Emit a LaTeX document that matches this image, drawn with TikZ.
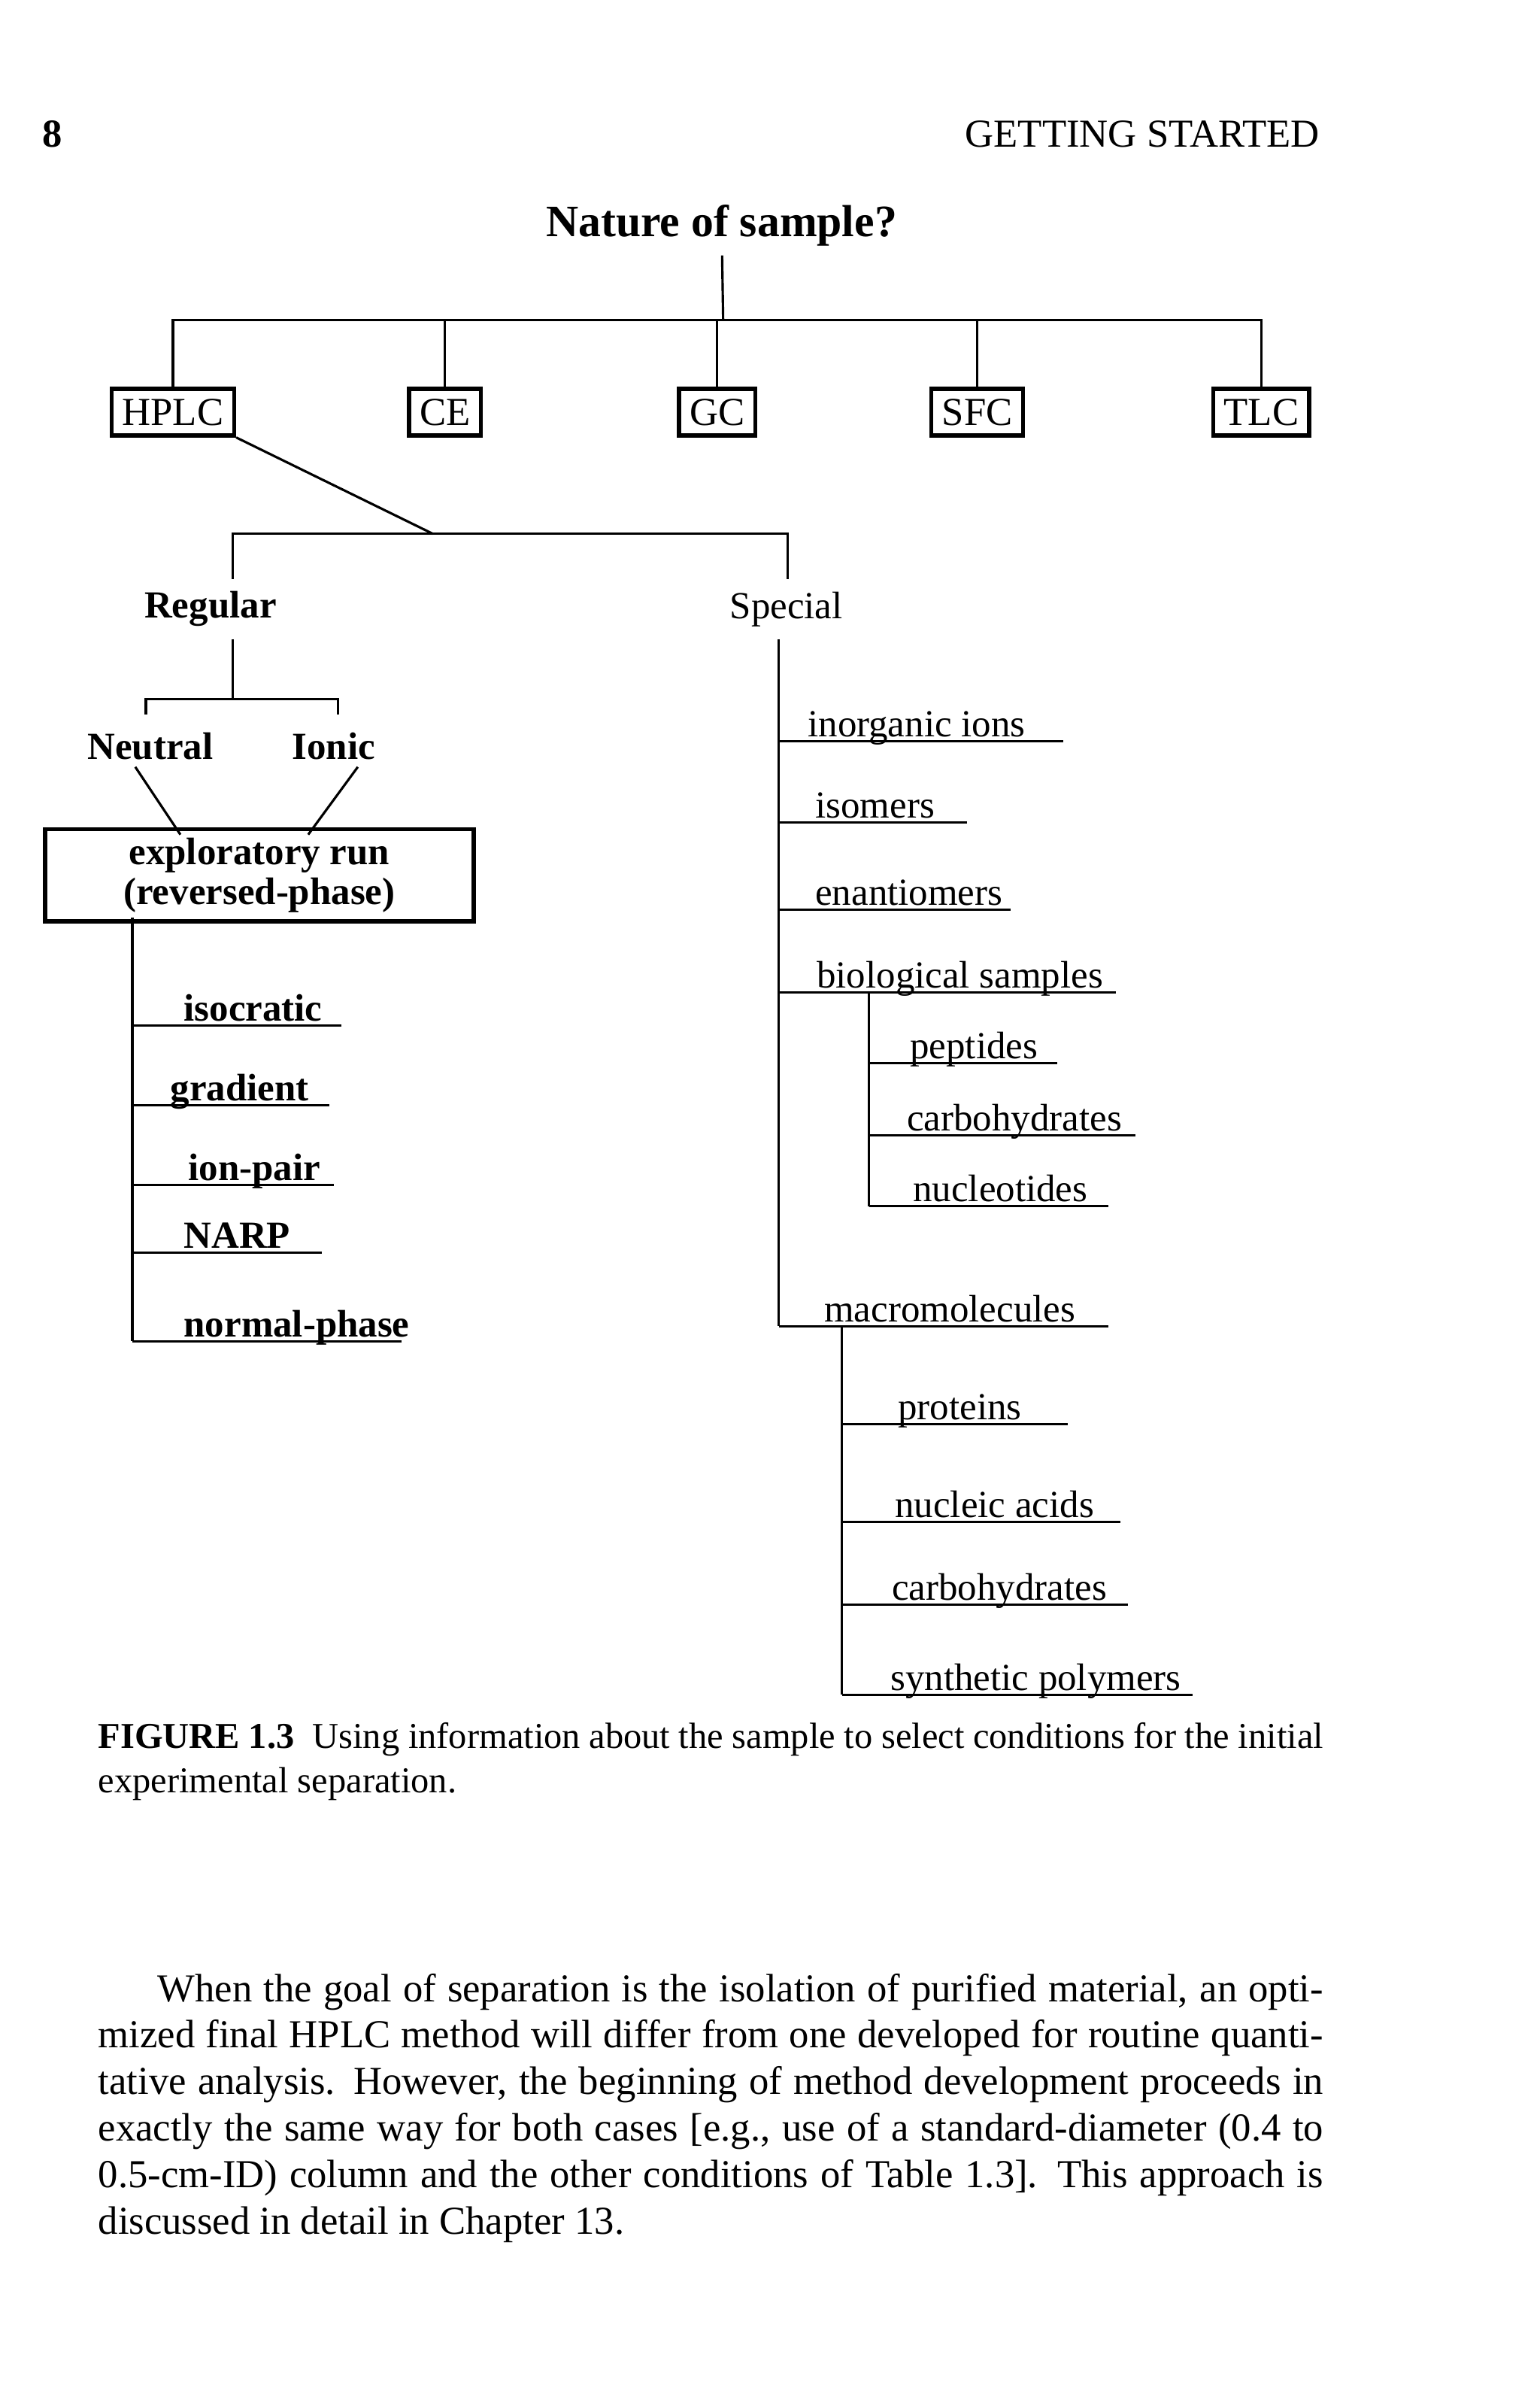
\documentclass[tikz,border=0pt]{standalone}
\usepackage{fontspec}
\setmainfont{Liberation Serif}
\usetikzlibrary{positioning}
\tikzset{
  sysbox/.style   = {rectangle, draw=black, line width=1.6pt, minimum height=0.62cm,
                     inner xsep=4pt, font=\fontsize{15}{17}\selectfont},
  lab/.style      = {font=\fontsize{14.5}{17}\selectfont\bfseries},
  leaf/.style     = {anchor=base west, inner sep=0pt, font=\fontsize{14.5}{17}\selectfont},
  line/.style     = {line width=0.9pt},
}
\begin{document}
\begin{tikzpicture}[x=0.02cm, y=-0.02cm]
\useasboundingbox (0,0) rectangle (1024,1590);
% page header
\node (pg)  [anchor=base west, inner sep=0pt, font=\fontsize{15}{17}\selectfont\bfseries] at (28,98) {8};
\node (hd)  [anchor=base east, inner sep=0pt, font=\fontsize{15}{17}\selectfont] at (878,98) {GETTING STARTED};
% root
\node (nat) [font=\fontsize{17}{20}\selectfont\bfseries] at (480,150) {Nature of sample?};
\node (hplc) [sysbox] at (115,274) {HPLC};
\node (ce)   [sysbox] at (296,274) {CE};
\node (gc)   [sysbox] at (477,274) {GC};
\node (sfc)  [sysbox] at (650,274) {SFC};
\node (tlc)  [sysbox] at (839,274) {TLC};
\coordinate (top) at (481,213);
\draw [line] (nat) -- (top);
\draw [line] (hplc.north) |- (tlc.north |- top) -- (tlc.north);
\foreach \b in {ce, gc, sfc}
  \draw [line] (\b.north) -- (\b.north |- top);
% HPLC split
\coordinate (hs) at (288,355);
\node (reg) [lab] at (140,405) {Regular};
\node (spe) [font=\fontsize{14.5}{17}\selectfont] at (523,405) {Special};
\draw [line] (hplc.south east) -- (hs);
\draw [line] (155,385) |- (524,355) -- (524,385);
% regular
\node (neu) [lab] at (100,496) {Neutral};
\node (ion) [lab] at (222,496) {Ionic};
\node (exp) [rectangle, draw=black, line width=1.6pt, minimum width=5.7cm, minimum height=1.1cm,
             align=center, font=\fontsize{14.5}{15}\selectfont\bfseries] at (172.5,582)
             {exploratory run\\(reversed-phase)};
\draw [line] (155,425) -- (155,465);
\draw [line] (97,475) |- (225,465) -- (225,475);
\draw [line] (90,510) -- (120,555);
\draw [line] (238,510) -- (205,555);
\coordinate (rv) at (88,892);
\draw [line] (88,610) -- (rv);
\foreach \y/\xs/\xe/\t in {682/122/227/isocratic, 735/113/219/gradient,
                           788/125/222/ion-pair, 833/122/214/NARP,
                           892/122/267/normal-phase}{
  \node [leaf, font=\fontsize{14.5}{17}\selectfont\bfseries] at (\xs,\y-3) {\t};
  \draw [line] (88,\y) -- (\xe,\y);
}
% special
\draw [line] (518,425) -- (518,882);
\foreach \y/\xs/\xe/\t in {493/537/707/inorganic ions, 547/542/643/isomers,
                           605/542/672/enantiomers, 660/543/742/biological samples,
                           882/548/737/macromolecules}{
  \node [leaf] at (\xs,\y-3) {\t};
  \draw [line] (518,\y) -- (\xe,\y);
}
\draw [line] (578,660) -- (578,802);
\foreach \y/\xs/\xe/\t in {707/605/703/peptides, 755/603/755/carbohydrates,
                           802/607/737/nucleotides}{
  \node [leaf] at (\xs,\y-3) {\t};
  \draw [line] (578,\y) -- (\xe,\y);
}
\draw [line] (560,882) -- (560,1127);
\foreach \y/\xs/\xe/\t in {947/597/710/proteins, 1012/595/745/nucleic acids,
                           1067/593/750/carbohydrates, 1127/592/793/synthetic polymers}{
  \node [leaf] at (\xs,\y-3) {\t};
  \draw [line] (560,\y) -- (\xe,\y);
}
% caption and body text
\node (cap) [anchor=north west, inner sep=0pt, text width=16.3cm, align=justify,
             font=\fontsize{13.8}{17}\selectfont] at (65,1145)
  {\textbf{FIGURE 1.3}\enspace Using information about the sample to select conditions for the initial experimental separation.};
\node (par) [anchor=north west, inner sep=0pt, text width=16.3cm, align=justify,
             font=\fontsize{15}{17.6}\selectfont] at (65,1312)
  {\hspace*{1.5em}When the goal of separation is the isolation of purified material, an optimized final HPLC method will differ from one developed for routine quantitative analysis. However, the beginning of method development proceeds in exactly the same way for both cases [e.g., use of a standard-diameter (0.4 to 0.5-cm-ID) column and the other conditions of Table 1.3]. This approach is discussed in detail in Chapter 13.};
\end{tikzpicture}
\end{document}
